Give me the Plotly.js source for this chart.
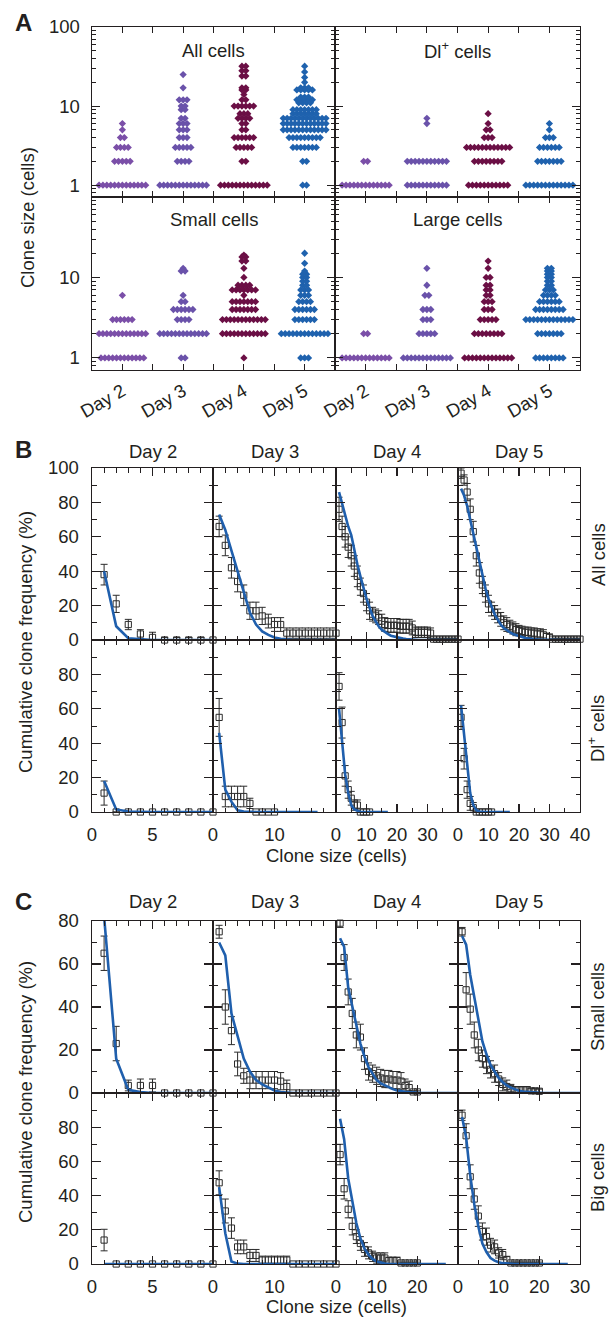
<!DOCTYPE html>
<html><head><meta charset="utf-8">
<script src="https://cdn.plot.ly/plotly-3.0.1.min.js"></script>
<style>html,body{margin:0;padding:0;background:#fff}</style>
</head><body><div id="chart" style="width:610px;height:1317px"></div>
<script>
// ================= DATA =================
const dayLabels = ['Day 2', 'Day 3', 'Day 4', 'Day 5'];
const dayColors = ['#7B4FA8', '#6A52AA', '#6B0F45', '#1F62AE'];

// Panel A: [clone size, number of clones] for each day (Day 2..Day 5)
const A_all = [
  [[1,13],[2,5],[3,4],[4,2],[5,1],[6,1]],
  [[1,13],[2,4],[3,5],[4,3],[5,3],[6,3],[7,2],[9,2],[10,2],[12,3],[17,1],[25,1]],
  [[1,13],[2,2],[3,5],[4,6],[5,2],[6,2],[7,4],[8,3],[10,6],[12,2],[14,1],[16,2],[17,2],[24,2],[28,2],[32,2]],
  [[1,2],[2,2],[3,7],[4,9],[5,12],[6,12],[7,12],[8,7],[9,7],[11,4],[12,5],[13,3],[16,5],[17,3],[20,1],[23,1],[27,1],[32,1]]
];
const A_dl = [
  [[1,13],[2,2]],
  [[1,11],[2,11],[6,1],[7,1]],
  [[1,11],[2,8],[3,12],[4,3],[5,2],[6,1],[8,1]],
  [[1,13],[2,7],[3,6],[4,3],[5,1],[6,1]]
];
const A_small = [
  [[1,12],[2,13],[3,6],[6,1]],
  [[1,2],[2,13],[3,4],[4,6],[5,2],[6,1],[12,2],[13,1]],
  [[1,1],[2,12],[3,12],[4,7],[5,7],[6,1],[7,7],[8,4],[10,1],[13,1],[16,2],[18,2],[19,1]],
  [[1,3],[2,13],[3,6],[4,6],[5,4],[6,3],[7,3],[8,2],[9,2],[10,2],[11,2],[12,1],[15,1],[20,1]]
];
const A_large = [
  [[1,13],[2,2]],
  [[1,13],[2,5],[3,3],[4,3],[6,2],[8,1],[13,1]],
  [[1,13],[2,8],[3,5],[4,3],[5,3],[6,2],[7,2],[8,2],[10,2],[13,1],[16,1]],
  [[1,8],[2,7],[3,13],[4,8],[5,6],[6,4],[7,3],[8,2],[9,2],[10,2],[11,2],[12,2],[13,2]]
];

// Clone sizes (cells)
const size10 = [1,2,3,4,5,6,7,8,9,10];
const size11 = [1,2,3,4,5,6,7,8,9,10,11];
const size17 = [1,2,3,4,5,6,7,8,9,10,11,12,13,14,15,16,17];
const size20 = [1,2,3,4,5,6,7,8,9,10,11,12,13,14,15,16,17,18,19,20];
const size27 = [1,2,3,4,5,6,7,8,9,10,11,12,13,14,15,16,17,18,19,20,21,22,23,24,25,26,27];
const size30 = [1,2,3,4,5,6,7,8,9,10,11,12,13,14,15,16,17,18,19,20,21,22,23,24,25,26,27,28,29,30];
const size40 = [1,2,3,4,5,6,7,8,9,10,11,12,13,14,15,16,17,18,19,20,21,22,23,24,25,26,27,28,29,30,31,32,33,34,35,36,37,38,39,40];

// Panel B, All cells: cumulative frequency (%), error, model
const B_all_d2 = [38,21,9,3.5,1.5,0,0,0,0,0];
const B_all_d2_err = [6,5,3,2.5,3,1.5,1.5,1.5,1.5,0];
const B_all_d2_fit = [40,8,1,0.3,0,0,0,0,0,0];
const B_all_d3 = [66,55,42,34,26,17,17,14,11,9,9,4,4,4,4,4,4,4,4,4];
const B_all_d3_err = [6,6,6,6,6,5,5,5,4,4,4,3,3,3,3,3,3,3,3,3];
const B_all_d3_fit = [73,64,52,40,27,16,9,5,3,1.5,0.7,0.3,0,0,0,0,0,0,0,0];
const B_all_d4 = [76,66,60,54,49,43,37,31,27,22,17,15,14,13,11,9,8.5,8.5,8.5,8.5,8,8,8,8,7,4.5,4.5,4.5,4.5,4.5,4,0.5,0.5,0.5,0.5,0.5,0.5,0.5,0.5,0.5];
const B_all_d4_err = [7,6,6,6,6,6,6,5,5,5,5,4,4,4,4,4,4,4,4,4,4,4,4,4,4,3,3,3,3,3,3,0.5,0.5,0.5,0.5,0.5,0.5,0.5,0.5,0.5];
const B_all_d4_fit = [86,79,72,66,61,52,44,37,30,24,19,14,11,8,6,4.5,3.5,2.5,2,1.5,1.1,0.8,0.5,0.3,0.2,0,0,0,0,0,0,0,0,0,0,0,0,0,0,0];
const B_all_d5 = [97,93,86,76,63,49,39,32,27,21,18,16,14,12,10,9,8,7,6,5.5,5,4.5,4.5,4,4,3.5,3.5,3,2,1.5,0.5,0.5,0.5,0.5,0.5,0.5,0.5,0.5,0.5,0.5];
const B_all_d5_err = [3,3,5,6,6,6,6,5,5,5,4,4,4,4,4,4,3.5,3.5,3.5,3,3,3,3,3,3,3,3,3,2,2,0.5,0.5,0.5,0.5,0.5,0.5,0.5,0.5,0.5,0.5];
const B_all_d5_fit = [88,84,78,70,61,52,44,37,30,24,19,15,12,9,7,5.5,4.5,3.5,2.8,2.2,1.7,1.2,0.9,0.7,0.5,0.3,0.2,0.1,0,0,0,0,0,0,0,0,0,0,0,0];

// Panel B, Dl+ cells
const B_dl_d2 = [11,0,0,0,0,0,0,0,0,0];
const B_dl_d2_err = [7,0,0,0,0,0,0,0,0,0];
const B_dl_d2_fit = [18,1.5,0.3,0,0,0,0,0,0,0];
const B_dl_d3 = [55,9,9,9,9,5,0,0,0,0];
const B_dl_d3_err = [11,6,6,6,6,3,0,0,0,0];
const B_dl_d3_fit = [46,13,6,1,0.3,0,0,0,0,0,0,0,0,0,0,0,0];
const B_dl_d4 = [73,52,21,13,8,4,4,0,0,0,0];
const B_dl_d4_err = [8,9,6,5,4,3,3,0,0,0,0];
const B_dl_d4_fit = [60,40,22,11,4,1.5,0.5,0,0,0,0,0,0,0,0,0,0];
const B_dl_d5 = [55,31,13,5,2.5,0,0,0,0,0,0];
const B_dl_d5_err = [7,6,5,4,3,0,0,0,0,0,0];
const B_dl_d5_fit = [62,44,25,11,4,1,0.3,0,0,0,0,0,0,0,0,0,0];

// Panel C, Small cells
const C_sm_d2 = [65,23,3.5,3.5,3.5,0,0,0,0,0];
const C_sm_d2_err = [8,8,2.5,3,3,0,0,0,0,0];
const C_sm_d2_fit = [82,16,1.5,0.4,0,0,0,0,0,0];
const C_sm_d3 = [75,40,29,13.5,8,6,6,6,6,6,5.5,3,0,0,0,0,0,0,0,0];
const C_sm_d3_err = [3,8,6.5,5.5,3.5,4,4,4,4,4,4,3,0,0,0,0,0,0,0,0];
const C_sm_d3_fit = [70,64,37,27,16,10,6,4,2.5,1.2,0.5,0.2,0,0,0,0,0,0,0,0];
const C_sm_d4 = [79,63,47,37,27,26,16,10,9,8,7,6.5,6.5,6,6,5.5,3.5,2.5,0.5,0.5];
const C_sm_d4_err = [2,6,6,7,6,6,5,4,4,4,4,4,4,4,4,4,3,3,0.5,0.5];
const C_sm_d4_fit = [72,68,49,40,31,23,17,12,9,6,4.5,3.5,2.5,1.8,1.2,0.8,0.6,0.4,0.2,0.1,0,0,0,0,0,0,0,0,0,0];
const C_sm_d5 = [75,48,39,27,20,16,13,11,9,6.5,4,3,2,1.5,1.5,1.5,1.5,1,1,0.8];
const C_sm_d5_err = [2,8,7,6,5,4,4,4,4,3,3,3,2,1.5,1.5,1.5,1.5,1,1,1];
const C_sm_d5_fit = [73,69,55,45,35,24,18,13,10,7,5,3.5,2.5,1.7,1,0.7,0.5,0.3,0.2,0.1,0,0,0,0,0,0,0,0,0,0];

// Panel C, Big cells
const C_bg_d2 = [14,0,0,0,0,0,0,0,0,0];
const C_bg_d2_err = [6.3,0,0,0,0,0,0,0,0,0];
const C_bg_d2_fit = [0,0,0,0,0,0,0,0,0,0];
const C_bg_d3 = [47.5,31,21,10,10,5,5,2.3,2.3,2.3,2.3,2.3,0,0,0,0,0,0,0,0];
const C_bg_d3_err = [7,7,6,4,4,3.5,3.5,2.3,2.3,2.3,2.3,2.3,0,0,0,0,0,0,0,0];
const C_bg_d3_fit = [45,18,1.5,0.2,0,0,0,0,0,0,0,0,0,0,0,0,0,0,0,0];
const C_bg_d4 = [64,44,32,22,16,12,8.5,6.5,4.5,3.5,3.5,3.5,2,2,2,0.6,0.6,0.6,0.6,0.6];
const C_bg_d4_err = [6,6,5,5,4,4,4,3.5,3,3,3,3,2,2,2,0.5,0.5,0.5,0.5,0.5];
const C_bg_d4_fit = [85,73,50,36,24,15,9,5.5,3,1.5,0.7,0.3,0,0,0,0,0,0,0,0,0,0,0,0,0,0,0];
const C_bg_d5 = [87,75,51,38,28,19,16,11,10,6.5,5.5,2.5,0.6,0.6,0.6,0.6,0.6,0.6,0.6,0.6];
const C_bg_d5_err = [3,7,7,6,6,5,5,4,4,3,3,2,0.5,0.5,0.5,0.5,0.5,0.5,0.5,0.5];
const C_bg_d5_fit = [86,74,52,35,22,12,7,3.5,2,1,0.5,0.2,0,0,0,0,0,0,0,0,0,0,0,0,0,0,0];

// ================= DRAWING =================
const W = 610, H = 1317;
const FONT = 'Liberation Sans, Arial, Helvetica, sans-serif';
const INK = '#231F20';
const FIT = '#1F5FAD';
const fx = p => p / W;
const fy = p => 1 - p / H;

const layout = {
  width: W, height: H, margin: {l:0, r:0, t:0, b:0},
  paper_bgcolor: '#ffffff', plot_bgcolor: 'rgba(0,0,0,0)',
  showlegend: false, font: {family: FONT, size: 18, color: INK},
  annotations: []
};
const traces = [];
let nAx = 0;

function baseAxis() {
  return {showline: true, linecolor: INK, linewidth: 1.4, mirror: 'allticks',
    ticks: 'inside', tickcolor: INK, tickwidth: 1.1, showgrid: false, zeroline: false,
    fixedrange: true, tickfont: {family: FONT, size: 18.5, color: INK}};
}
function addSubplot(x0, x1, y0, y1, xa, ya) {
  nAx++;
  const k = nAx === 1 ? '' : nAx;
  layout['xaxis' + k] = Object.assign(baseAxis(), {domain: [fx(x0), fx(x1)], anchor: 'y' + k}, xa);
  layout['yaxis' + k] = Object.assign(baseAxis(), {domain: [fy(y1), fy(y0)], anchor: 'x' + k}, ya);
  return {xaxis: 'x' + k, yaxis: 'y' + k};
}
function text(t, px, py, opts) {
  layout.annotations.push(Object.assign({text: t, x: fx(px), y: fy(py), xref: 'paper', yref: 'paper',
    showarrow: false, xanchor: 'center', yanchor: 'middle',
    font: {family: FONT, size: 18.5, color: INK}}, opts || {}));
}

// ---------- Panel A ----------
const swarmStep = 0.064;
const aCols = [[92, 335], [335, 580]];
const aRows = [[27, 197], [197, 370]];
const aPanels = [
  {data: A_all, title: 'All cells', r: 0, c: 0},
  {data: A_dl, title: 'Dl<sup>+</sup> cells', r: 0, c: 1},
  {data: A_small, title: 'Small cells', r: 1, c: 0},
  {data: A_large, title: 'Large cells', r: 1, c: 1}
];
const logMinor = [0.8, 0.9, 2, 3, 4, 5, 6, 7, 8, 9, 20, 30, 40, 50, 60, 70, 80, 90];
aPanels.forEach(p => {
  const bottom = p.r === 1, left = p.c === 0;
  const ax = addSubplot(aCols[p.c][0], aCols[p.c][1], aRows[p.r][0], aRows[p.r][1],
    {range: [-0.5, 3.5], tickmode: 'array', tickvals: [0, 0.5, 1, 1.5, 2, 2.5, 3],
     ticktext: ['Day 2', ' ', 'Day 3', ' ', 'Day 4', ' ', 'Day 5'], ticklen: 6,
     showticklabels: bottom, tickangle: -30, ticklabelstandoff: 2},
    {type: 'log', range: [-0.15, 2], tickmode: 'array', tickvals: [1, 10, 100],
     ticktext: p.r === 0 ? ['1', '10', '100'] : ['1', '10', ' '], ticklen: 8,
     showticklabels: left, ticklabelstandoff: 7,
     minor: {tickvals: logMinor, ticks: 'inside', ticklen: 4, tickcolor: INK, tickwidth: 1, showgrid: false}});
  p.data.forEach((day, d) => {
    const xs = [], ys = [];
    day.forEach(([size, count]) => {
      for (let i = 0; i < count; i++) {
        xs.push(d + (i - (count - 1) / 2) * swarmStep);
        ys.push(size);
      }
    });
    traces.push(Object.assign({type: 'scatter', mode: 'markers', x: xs, y: ys, hoverinfo: 'skip',
      marker: {symbol: 'diamond', size: 5.6, color: dayColors[d], line: {width: 0}}}, ax));
  });
  text(p.title, (aCols[p.c][0] + aCols[p.c][1]) / 2, aRows[p.r][0] + 23);
});
text('Clone size (cells)', 27, 218, {textangle: -90});
text('<b>A</b>', 23, 22, {font: {family: FONT, size: 24, color: INK}});

// ---------- Panels B and C ----------
const gCols = [[92, 213], [213, 336], [336, 458], [458, 580]];
const bX = [
  {range: [0, 10], major: [0, 5, 10], minor: 1},
  {range: [0, 20], major: [0, 10, 20], minor: 2},
  {range: [0, 40], major: [0, 10, 20, 30, 40], minor: 5},
  {range: [0, 40], major: [0, 10, 20, 30, 40], minor: 5}
];
const cX = [
  {range: [0, 10], major: [0, 5, 10], minor: 1},
  {range: [0, 20], major: [0, 10, 20], minor: 2},
  {range: [0, 30], major: [0, 10, 20, 30], minor: 5},
  {range: [0, 30], major: [0, 10, 20, 30], minor: 5}
];

function cumPanel(rowTop, rowBot, col, xcfg, ymax, isBottomRow, data) {
  const last = col === 3;
  const yv = ymax === 100 ? [0, 20, 40, 60, 80, 100] : [0, 20, 40, 60, 80];
  const ax = addSubplot(gCols[col][0], gCols[col][1], rowTop, rowBot,
    {range: xcfg.range, tickmode: 'array', tickvals: xcfg.major,
     ticktext: xcfg.major.map((v, i) => (!last && i === xcfg.major.length - 1) ? ' ' : String(v)),
     ticklen: 8, showticklabels: isBottomRow, ticklabelstandoff: 5,
     minor: {dtick: xcfg.minor, tick0: 0, ticks: 'inside', ticklen: 4.5, tickcolor: INK, tickwidth: 1, showgrid: false}},
    {range: [0, ymax], tickmode: 'array', tickvals: yv,
     ticktext: yv.map(v => (isBottomRow && v === 100) ? ' ' : String(v)),
     ticklen: 9, showticklabels: col === 0, ticklabelstandoff: 8,
     minor: {dtick: 10, tick0: 0, ticks: 'inside', ticklen: 4.5, tickcolor: INK, tickwidth: 1, showgrid: false}});
  traces.push(Object.assign({type: 'scatter', mode: 'markers', x: data.x, y: data.y, cliponaxis: false, hoverinfo: 'skip',
    marker: {symbol: 'square-open', size: 6.2, color: '#2b2b2b', line: {width: 1}},
    error_y: {type: 'data', array: data.e, visible: true, color: '#2b2b2b', thickness: 1, width: 3.5}}, ax));
  traces.push(Object.assign({type: 'scatter', mode: 'lines', x: data.fx, y: data.fy, hoverinfo: 'skip',
    line: {color: FIT, width: 2.6}}, ax));
}

// B row 1: All cells
const bRow1 = [468, 640], bRow2 = [640, 812];
cumPanel(bRow1[0], bRow1[1], 0, bX[0], 100, false, {x: size10, y: B_all_d2, e: B_all_d2_err, fx: size10, fy: B_all_d2_fit});
cumPanel(bRow1[0], bRow1[1], 1, bX[1], 100, false, {x: size20, y: B_all_d3, e: B_all_d3_err, fx: size20, fy: B_all_d3_fit});
cumPanel(bRow1[0], bRow1[1], 2, bX[2], 100, false, {x: size40, y: B_all_d4, e: B_all_d4_err, fx: size40, fy: B_all_d4_fit});
cumPanel(bRow1[0], bRow1[1], 3, bX[3], 100, false, {x: size40, y: B_all_d5, e: B_all_d5_err, fx: size40, fy: B_all_d5_fit});
// B row 2: Dl+ cells
cumPanel(bRow2[0], bRow2[1], 0, bX[0], 100, true, {x: size10, y: B_dl_d2, e: B_dl_d2_err, fx: size10, fy: B_dl_d2_fit});
cumPanel(bRow2[0], bRow2[1], 1, bX[1], 100, true, {x: size10, y: B_dl_d3, e: B_dl_d3_err, fx: size17, fy: B_dl_d3_fit});
cumPanel(bRow2[0], bRow2[1], 2, bX[2], 100, true, {x: size11, y: B_dl_d4, e: B_dl_d4_err, fx: size17, fy: B_dl_d4_fit});
cumPanel(bRow2[0], bRow2[1], 3, bX[3], 100, true, {x: size11, y: B_dl_d5, e: B_dl_d5_err, fx: size17, fy: B_dl_d5_fit});

// C row 1: Small cells
const cRow1 = [921, 1093], cRow2 = [1093, 1264];
cumPanel(cRow1[0], cRow1[1], 0, cX[0], 80, false, {x: size10, y: C_sm_d2, e: C_sm_d2_err, fx: size10, fy: C_sm_d2_fit});
cumPanel(cRow1[0], cRow1[1], 1, cX[1], 80, false, {x: size20, y: C_sm_d3, e: C_sm_d3_err, fx: size20, fy: C_sm_d3_fit});
cumPanel(cRow1[0], cRow1[1], 2, cX[2], 80, false, {x: size20, y: C_sm_d4, e: C_sm_d4_err, fx: size30, fy: C_sm_d4_fit});
cumPanel(cRow1[0], cRow1[1], 3, cX[3], 80, false, {x: size20, y: C_sm_d5, e: C_sm_d5_err, fx: size30, fy: C_sm_d5_fit});
// C row 2: Big cells
cumPanel(cRow2[0], cRow2[1], 0, cX[0], 100, true, {x: size10, y: C_bg_d2, e: C_bg_d2_err, fx: size10, fy: C_bg_d2_fit});
cumPanel(cRow2[0], cRow2[1], 1, cX[1], 100, true, {x: size20, y: C_bg_d3, e: C_bg_d3_err, fx: size20, fy: C_bg_d3_fit});
cumPanel(cRow2[0], cRow2[1], 2, cX[2], 100, true, {x: size20, y: C_bg_d4, e: C_bg_d4_err, fx: size27, fy: C_bg_d4_fit});
cumPanel(cRow2[0], cRow2[1], 3, cX[3], 100, true, {x: size20, y: C_bg_d5, e: C_bg_d5_err, fx: size27, fy: C_bg_d5_fit});

// Titles and labels for B and C
dayLabels.forEach((d, i) => {
  const cx = (gCols[i][0] + gCols[i][1]) / 2;
  text(d, cx, 452);
  text(d, cx, 902);
});
text('<b>B</b>', 23, 449, {font: {family: FONT, size: 24, color: INK}});
text('<b>C</b>', 23, 901, {font: {family: FONT, size: 24, color: INK}});
text('Cumulative clone frequency (%)', 25, 642, {textangle: -90});
text('Cumulative clone frequency (%)', 25, 1092, {textangle: -90});
text('Clone size (cells)', 336, 855);
text('Clone size (cells)', 336, 1306);
text('All cells', 598, 555, {textangle: -90});
text('Dl<sup>+</sup> cells', 596, 729, {textangle: -90});
text('Small cells', 597, 1007, {textangle: -90});
text('Big cells', 597, 1178, {textangle: -90});

Plotly.newPlot('chart', traces, layout, {staticPlot: true, displayModeBar: false});
</script>
</body></html>
